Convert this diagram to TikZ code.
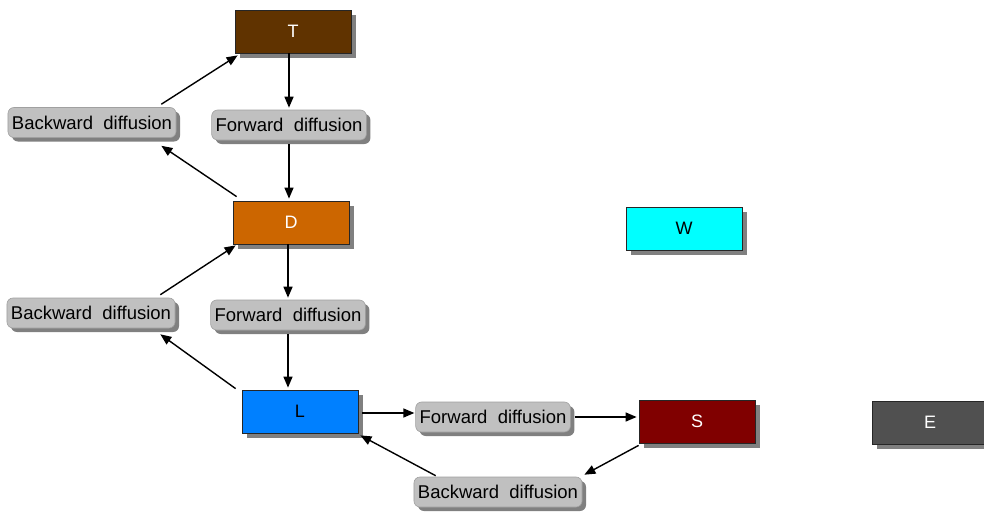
\documentclass[tikz,border=0pt]{standalone}
\usepackage{fontspec}
\setmainfont{Liberation Sans}
\usetikzlibrary{arrows.meta,shadows}
\definecolor{Tbrown}{HTML}{603300}
\definecolor{Dorange}{HTML}{CC6600}
\definecolor{Lblue}{HTML}{0080FF}
\definecolor{Wcyan}{HTML}{00FFFF}
\definecolor{Sred}{HTML}{800000}
\definecolor{Egrey}{HTML}{505050}
\definecolor{labfill}{HTML}{C0C0C0}
\definecolor{labline}{HTML}{A0A0A0}
\definecolor{shadowgrey}{HTML}{808080}
\tikzset{
  box/.style={draw=black!85, line width=0.8pt, minimum width=116pt, minimum height=43pt,
    font=\fontsize{18}{21}\selectfont, inner sep=0pt,
    drop shadow={shadow xshift=5pt, shadow yshift=-5pt, fill=shadowgrey, opacity=1}},
  lab/.style={draw=labline, line width=0.6pt, fill=labfill, rounded corners=6pt,
    minimum height=30pt, inner xsep=4pt, inner ysep=0pt,
    font=\fontsize{18.5}{21}\selectfont,
    drop shadow={shadow xshift=4pt, shadow yshift=-4pt, fill=shadowgrey, opacity=1}},
  arr/.style={line width=1.4pt, -{Triangle[length=11pt,width=9pt]}}
}
\begin{document}
\begin{tikzpicture}[x=1pt,y=-1pt]
\useasboundingbox (0,0) rectangle (984,512);
\clip (0,0) rectangle (984,512);
% boxes
\node[box, fill=Tbrown, text=white] (T) at (293,31.5) {T};
\node[box, fill=Dorange, text=white] (D) at (291,222.5) {D};
\node[box, fill=Lblue, text=black] (L) at (300,411.5) {L};
\node[box, fill=Wcyan, text=black] (W) at (684,228.5) {W};
\node[box, fill=Sred, text=white] (S) at (697,421.5) {S};
\node[box, fill=Egrey, text=white] (E) at (930,422.5) {E};
% labels
\node[lab] (F1) at (289,125) {Forward~~diffusion};
\node[lab] (B1) at (92,122.5) {Backward~~diffusion};
\node[lab] (F2) at (288,315) {Forward~~diffusion};
\node[lab] (B2) at (91,313) {Backward~~diffusion};
\node[lab] (F3) at (493,417) {Forward~~diffusion};
\node[lab] (B3) at (498,492) {Backward~~diffusion};
% connectors
\draw[arr] (F1.north |- T.south) -- ([yshift=2pt]F1.north);
\draw[arr] ([yshift=-4pt]F1.south) -- ([yshift=2pt]F1.south |- D.north);
\draw[arr] ([xshift=4pt,yshift=4pt]D.north west) -- ([xshift=-15pt,yshift=-8pt]B1.south east);
\draw[arr] ([xshift=-15pt,yshift=3pt]B1.north east) -- ([xshift=3pt,yshift=-2pt]T.south west);
\draw[arr] (F2.north |- D.south) -- ([yshift=2pt]F2.north);
\draw[arr] ([yshift=-4pt]F2.south) -- ([yshift=2pt]F2.south |- L.north);
\draw[arr] ([xshift=-6pt,yshift=1pt]L.north west) -- ([xshift=-15pt,yshift=-6pt]B2.south east);
\draw[arr] ([xshift=-15pt,yshift=3pt]B2.north east) -- ([xshift=3pt,yshift=-1pt]D.south west);
\draw[arr] ([xshift=4pt,yshift=-1.5pt]L.east) -- ([xshift=-1pt,yshift=-1.5pt]F3.west |- L.east);
\draw[arr] ([xshift=4pt]F3.east) -- ([xshift=-2pt]S.west |- F3.east);
\draw[arr] ([yshift=-2pt]S.south west) -- ([xshift=2pt,yshift=2pt]B3.north east);
\draw[arr] ([xshift=22pt,yshift=1pt]B3.north west) -- ([xshift=2pt,yshift=-2pt]L.south east);
\end{tikzpicture}
\end{document}
